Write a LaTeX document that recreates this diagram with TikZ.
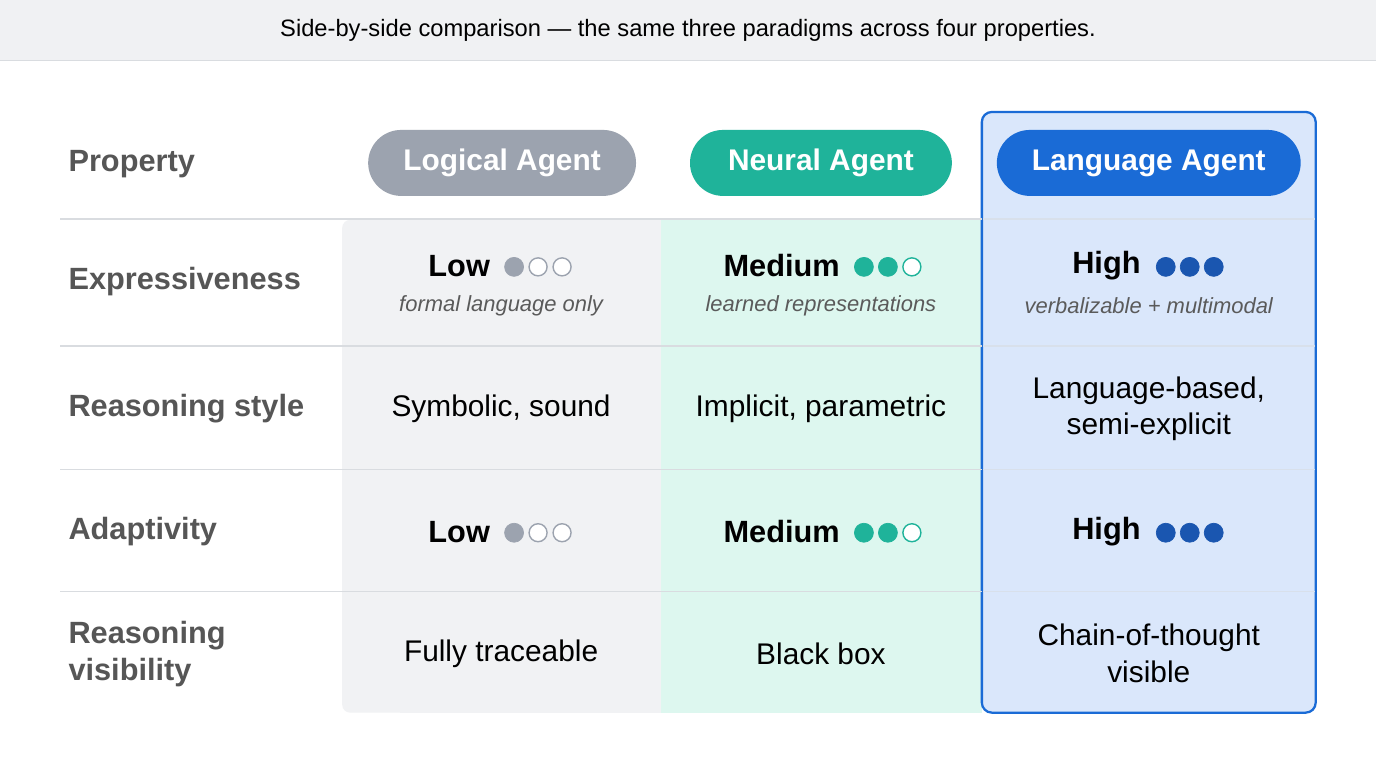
\documentclass[tikz,border=0pt]{standalone}
\usepackage{fontspec}
\setmainfont{Liberation Sans}
\definecolor{bannerbg}{HTML}{F0F1F3}
\definecolor{rulegray}{HTML}{D9DCE0}
\definecolor{logicbg}{HTML}{F1F2F4}
\definecolor{neuralbg}{HTML}{DDF7EF}
\definecolor{langbg}{HTML}{DAE7FB}
\definecolor{logicc}{HTML}{9CA3AF}
\definecolor{neuralc}{HTML}{1FB39A}
\definecolor{langc}{HTML}{1A6BD6}
\definecolor{langdot}{HTML}{1A56B0}
\definecolor{labelc}{HTML}{565656}
\definecolor{subc}{HTML}{5A5A5A}
\begin{document}
\begin{tikzpicture}[x=0.02cm,y=-0.02cm,
    pill/.style={rounded corners=33*0.02cm, text=white, font=\fontsize{17}{20}\selectfont\bfseries,
        inner sep=0pt},
    rowlabel/.style={anchor=west, text=labelc, font=\fontsize{17.5}{21}\selectfont\bfseries,
        align=left},
    cell/.style={text=black, font=\fontsize{17}{21}\selectfont, align=center},
    rate/.style={anchor=east, text=black, font=\fontsize{17.5}{21}\selectfont\bfseries},
    sub/.style={text=subc, font=\fontsize{12.5}{15}\selectfont\itshape},
    dotfull/.style={circle, fill=#1, draw=#1, minimum size=19*0.02cm, inner sep=0pt},
    dotempty/.style={circle, fill=white, draw=#1, line width=0.8pt, minimum size=18*0.02cm, inner sep=0pt}
]
% frame
\fill[white] (0,0) rectangle (1376,768);
\fill[bannerbg] (0,0) rectangle (1376,60);
\draw[rulegray] (0,60) -- (1376,60);
\node (caption) at (688,30) {\fontsize{13.5}{16}\selectfont Side-by-side comparison --- the same three paradigms across four properties.};

% column backgrounds
\fill[logicbg, rounded corners=8*0.02cm] (342,220) rectangle (680,713);
\fill[logicbg] (400,220) rectangle (661,713);
\fill[neuralbg] (661,220) rectangle (982,713);
\filldraw[fill=langbg, draw=langc, line width=1.3pt, rounded corners=10*0.02cm] (982,112) rectangle (1316,713);

% rules
\foreach \yy in {219,346,470,592}
    \draw[rulegray, line width=0.8pt] (60,\yy) -- (982,\yy);
\foreach \yy in {219,346,470,592}
    \draw[langbg!80!gray!70, line width=0.8pt] (983,\yy) -- (1315,\yy);

% headers
\node[rowlabel] (hprop) at (62,164) {Property};
\fill[logicc, rounded corners=33*0.02cm] (368,130) rectangle (636,196);
\node[text=white, font=\fontsize{17}{20}\selectfont\bfseries] (hlogic) at (502,163) {Logical Agent};
\fill[neuralc, rounded corners=33*0.02cm] (690,130) rectangle (952,196);
\node[text=white, font=\fontsize{17}{20}\selectfont\bfseries] (hneural) at (821,163) {Neural Agent};
\fill[langc, rounded corners=33*0.02cm] (997,130) rectangle (1301,196);
\node[text=white, font=\fontsize{17}{20}\selectfont\bfseries] (hlang) at (1149,163) {Language Agent};

% row labels
\node[rowlabel] (rexpr) at (62,282) {Expressiveness};
\node[rowlabel] (rstyle) at (62,409) {Reasoning style};
\node[rowlabel] (radapt) at (62,532) {Adaptivity};
\node[rowlabel] (rvis) at (62,654) {Reasoning\\visibility};

% expressiveness
\node[rate] (exlow) at (496,266) {Low};
\node[dotfull=logicc] at (514,267) {};
\node[dotempty=logicc] at (538,267) {};
\node[dotempty=logicc] at (562,267) {};
\node[sub] (exlowsub) at (501,306) {formal language only};
\node[rate] (exmed) at (846,266) {Medium};
\node[dotfull=neuralc] at (864,267) {};
\node[dotfull=neuralc] at (888,267) {};
\node[dotempty=neuralc] at (912,267) {};
\node[sub] (exmedsub) at (821,306) {learned representations};
\node[rate] (exhigh) at (1147,266) {High};
\node[dotfull=langdot] at (1166,267) {};
\node[dotfull=langdot] at (1190,267) {};
\node[dotfull=langdot] at (1214,267) {};
\node[sub] (exhighsub) at (1149,306) {verbalizable + multimodal};

% reasoning style
\node[cell] (stlogic) at (501,409) {Symbolic, sound};
\node[cell] (stneural) at (821,409) {Implicit, parametric};
\node[cell] (stlang) at (1149,409) {Language-based,\\semi-explicit};

% adaptivity
\node[rate] (adlow) at (496,532) {Low};
\node[dotfull=logicc] at (514,533) {};
\node[dotempty=logicc] at (538,533) {};
\node[dotempty=logicc] at (562,533) {};
\node[rate] (admed) at (846,532) {Medium};
\node[dotfull=neuralc] at (864,533) {};
\node[dotfull=neuralc] at (888,533) {};
\node[dotempty=neuralc] at (912,533) {};
\node[rate] (adhigh) at (1147,532) {High};
\node[dotfull=langdot] at (1166,533) {};
\node[dotfull=langdot] at (1190,533) {};
\node[dotfull=langdot] at (1214,533) {};

% visibility
\node[cell] (vislogic) at (501,654) {Fully traceable};
\node[cell] (visneural) at (821,654) {Black box};
\node[cell] (vislang) at (1149,654) {Chain-of-thought\\visible};
\end{tikzpicture}
\end{document}
